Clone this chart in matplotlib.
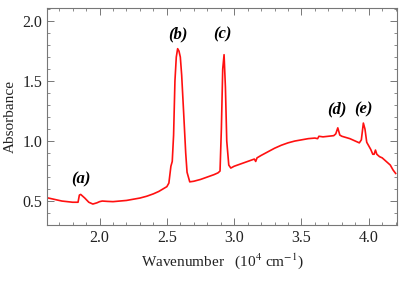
import numpy as np
import matplotlib.pyplot as plt
from matplotlib.ticker import MultipleLocator

# spectrum (wavenumber in 1e4 cm^-1, absorbance)
wavenumber = [1.60, 1.64, 1.68, 1.72, 1.76, 1.80, 1.84, 1.850, 1.86, 1.89, 1.92,
              1.95, 1.98, 2.00, 2.02, 2.06, 2.10, 2.15, 2.20, 2.25, 2.30, 2.35,
              2.40, 2.44, 2.47, 2.50, 2.515, 2.53, 2.54, 2.55, 2.56, 2.57, 2.58,
              2.59, 2.60, 2.61, 2.625, 2.64, 2.65, 2.67, 2.70, 2.75, 2.80, 2.85,
              2.88, 2.895, 2.905, 2.915, 2.925, 2.935, 2.945, 2.96, 2.975, 3.00,
              3.05, 3.10, 3.15, 3.16, 3.17, 3.20, 3.25, 3.30, 3.35, 3.40, 3.45,
              3.50, 3.55, 3.60, 3.62, 3.63, 3.66, 3.70, 3.74, 3.755, 3.77,
              3.785, 3.80, 3.83, 3.86, 3.90, 3.93, 3.945, 3.96, 3.972, 3.985,
              4.00, 4.015, 4.03, 4.04, 4.05, 4.06, 4.08, 4.10, 4.13, 4.16,
              4.18, 4.20]
absorbance = [0.530, 0.520, 0.510, 0.500, 0.495, 0.490, 0.490, 0.550, 0.555, 0.525, 0.490,
              0.475, 0.485, 0.495, 0.500, 0.497, 0.495, 0.500, 0.505, 0.515, 0.525, 0.540,
              0.560, 0.580, 0.600, 0.620, 0.650, 0.790, 0.830, 1.050, 1.500, 1.700, 1.770,
              1.750, 1.700, 1.550, 1.230, 0.900, 0.740, 0.660, 0.665, 0.680, 0.700, 0.720,
              0.735, 0.750, 1.100, 1.600, 1.720, 1.450, 1.000, 0.800, 0.775, 0.790,
              0.810, 0.830, 0.850, 0.830, 0.860, 0.880, 0.910, 0.940, 0.965, 0.985, 1.000,
              1.010, 1.020, 1.025, 1.020, 1.040, 1.035, 1.040, 1.045, 1.060, 1.110,
              1.050, 1.040, 1.030, 1.020, 1.000, 0.985, 1.010, 1.150, 1.100, 0.990,
              0.960, 0.930, 0.890, 0.890, 0.925, 0.890, 0.870, 0.860, 0.830, 0.800,
              0.760, 0.730]

peak_labels = ['(a)', '(b)', '(c)', '(d)', '(e)']
label_x = [1.86, 2.585, 2.91, 3.765, 3.96]
label_y = [0.68, 1.89, 1.89, 1.26, 1.26]

plt.rcParams['font.family'] = ['Liberation Serif', 'DejaVu Serif']
plt.rcParams['mathtext.fontset'] = 'stix'

fig = plt.figure(figsize=(3.99, 2.82), dpi=100)
ax = fig.add_axes([0.118, 0.202, 0.877, 0.770])

ax.plot(wavenumber, absorbance, '-', color='#ff1010', linewidth=1.2)

for lab, lx, ly in zip(peak_labels, label_x, label_y):
    ax.text(lx, ly, lab, ha='center', va='center', fontsize=12,
            fontweight='bold', fontstyle='italic')

ax.set_xlim(1.61, 4.21)
ax.set_ylim(0.3, 2.11)
ax.xaxis.set_major_locator(MultipleLocator(0.5))
ax.xaxis.set_minor_locator(MultipleLocator(0.1))
ax.yaxis.set_major_locator(MultipleLocator(0.5))
ax.yaxis.set_minor_locator(MultipleLocator(0.1))

frame = '#777777'
for s in ax.spines.values():
    s.set_color(frame)
    s.set_linewidth(0.8)
ax.tick_params(which='both', direction='in', top=True, right=True,
               color=frame, labelsize=11.5, labelcolor='#222222')
ax.tick_params(which='major', length=5, width=0.7)
ax.tick_params(which='minor', length=2.5, width=0.6)

ax.set_xlabel(r'Wavenumber   (10$^4$ cm$^{-1}$)', fontsize=11, color='#222222')
ax.set_ylabel('Absorbance', fontsize=11, color='#222222')

fig.savefig('out.png', dpi=100)
